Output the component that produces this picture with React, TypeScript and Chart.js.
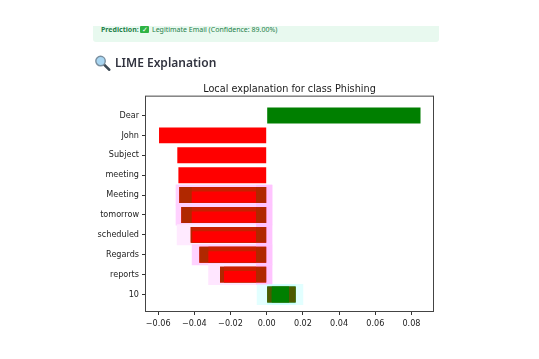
import React, { useEffect, useRef } from "react";
import { Chart, registerables } from "chart.js";

Chart.register(...registerables);

const words = ["Dear", "John", "Subject", "meeting", "Meeting", "tomorrow", "scheduled", "Regards", "reports", "10"];
const weights = [0.085, -0.0595, -0.0494, -0.0488, -0.0483, -0.0472, -0.042, -0.0372, -0.0258, 0.016];
const xTicks = [-0.06, -0.04, -0.02, 0, 0.02, 0.04, 0.06, 0.08];

// Highlighted rows (rows 4 to 9)
const highlightRows = [4, 5, 6, 7, 8, 9];
const haloLow = [-0.0503, -0.0503, -0.0497, -0.0414, -0.0323, -0.0055];
const haloHigh = [0.0031, 0.0031, 0.0031, 0.0031, 0.0031, 0.0202];
const haloColors = ["#ffd2ff", "#ffd2ff", "#ffeaff", "#ffd2ff", "#ffe6ff", "#e2ffff"];
const capLow = [-0.0059, -0.0059, -0.0059, -0.0059, -0.0059, 0];
const capHigh = [0.0031, 0.0031, 0.0031, 0.0031, 0.0031, 0.016];
const capColors = ["#ffc4ff", "#ffc4ff", "#ffc4ff", "#ffc4ff", "#ffc4ff", "#c8ffff"];
const darkColors = ["#b02800", "#b02800", "#b02800", "#b02800", "#b02800", "#4d5a00"];
const midLow = [-0.0414, -0.0414, -0.0411, -0.0322, -0.0236, 0.0028];
const midHigh = [-0.0059, -0.0059, -0.0059, -0.0059, -0.0059, 0.0123];
const midColors = ["#c82000", "#c82000", "#c82000", "#c82000", "#c82000", "#007f00"];
const coreColors = ["#ff0000", "#ff0000", "#ff0000", "#ff0000", "#ff0000", "#007f00"];

const rowShift = 0.1;

const minusTick = (v: number) => v.toFixed(2).replace("-", "\u2212");

const framePlugin = {
  id: "frame",
  afterDatasetsDraw(chart: any) {
    const { ctx, chartArea: a } = chart;
    ctx.save();
    ctx.strokeStyle = "#444";
    ctx.lineWidth = 1;
    ctx.strokeRect(a.left - 0.5, a.top - 0.5, a.right - a.left + 1, a.bottom - a.top + 1);
    ctx.restore();
  },
};

function App() {
  const ref = useRef<HTMLCanvasElement>(null);
  useEffect(() => {
    const font = { family: "'DejaVu Sans'", size: 8.1 };
    const bar = (data: any[], backgroundColor: any, barThickness: number, order: number) => ({
      data,
      backgroundColor,
      barThickness,
      order,
      grouped: false,
      borderWidth: 0,
      inflateAmount: 0,
    });
    const chart = new Chart(ref.current!, {
      type: "bar",
      data: {
        datasets: [
          bar(highlightRows.map((r, i) => ({ y: r, x: [haloLow[i], haloHigh[i]] })), haloColors, 21, 6),
          bar(highlightRows.map((r, i) => ({ y: r, x: [capLow[i], capHigh[i]] })), capColors, 20, 5),
          bar(weights.map((w, r) => ({ y: r, x: [0, w] })), weights.map((w) => (w > 0 ? "#007f00" : "#ff0000")), 15.9, 4),
          bar(highlightRows.map((r, i) => ({ y: r, x: [0, weights[r]] })), darkColors, 15.9, 3),
          bar(highlightRows.map((r, i) => ({ y: r, x: [midLow[i], midHigh[i]] })), midColors, 15.9, 2),
          bar(highlightRows.map((r, i) => ({ y: r + rowShift, x: [midLow[i], midHigh[i]] })), coreColors, 11, 1),
        ],
      },
      options: {
        indexAxis: "y",
        animation: false,
        responsive: false,
        devicePixelRatio: 1,
        layout: { padding: { top: 81, right: 106, left: 0, bottom: 0 } },
        plugins: {
          legend: { display: false },
          tooltip: { enabled: false },
          title: {
            display: true,
            fullSize: false,
            text: "Local explanation for class Phishing",
            color: "#1a1a1a",
            font: { family: "'DejaVu Sans'", size: 9.7, weight: "normal" },
            padding: { top: 3, bottom: 1 },
          },
        },
        scales: {
          x: {
            type: "linear",
            min: -0.0667,
            max: 0.0919,
            afterBuildTicks: (s: any) => {
              s.ticks = xTicks.map((value) => ({ value }));
            },
            afterFit: (s: any) => {
              s.height = 48;
            },
            ticks: { callback: (v: any) => minusTick(Number(v)), font, color: "#222", padding: 4, maxRotation: 0, autoSkip: false },
            grid: { drawOnChartArea: false, drawTicks: true, tickLength: 4, color: "#333" },
            border: { display: false },
          },
          y: {
            type: "linear",
            reverse: true,
            offset: false,
            min: -0.95,
            max: 9.83,
            afterBuildTicks: (s: any) => {
              s.ticks = words.map((_, value) => ({ value }));
            },
            afterFit: (s: any) => {
              s.width = 146;
            },
            ticks: { callback: (v: any) => words[Number(v)], font, color: "#222", padding: 3, autoSkip: false },
            grid: { offset: false, drawOnChartArea: false, drawTicks: true, tickLength: 4, color: "#333" },
            border: { display: false },
          },
        },
      },
      plugins: [framePlugin],
    } as any);
    return () => chart.destroy();
  }, []);

  return (
    <div style={{ position: "fixed", left: 0, top: 0, width: 539, height: 359, overflow: "hidden", background: "#fff", filter: "blur(0.35px)" }}>
      <canvas ref={ref} width={539} height={359} style={{ position: "absolute", left: 0, top: 0 }} />
      <div
        style={{
          position: "absolute",
          left: 93,
          top: 26,
          width: 346,
          height: 16,
          background: "#e8f9ef",
          borderRadius: "0 0 3px 3px",
          overflow: "hidden",
          fontFamily: "'Noto Sans', sans-serif",
          fontSize: 7,
          lineHeight: "7px",
          color: "#1f7f4a",
          whiteSpace: "nowrap",
        }}
      >
        <span style={{ position: "absolute", left: 8, top: 0, fontWeight: 700 }}>Prediction:</span>
        <span
          style={{
            position: "absolute",
            left: 47,
            top: 0,
            width: 9,
            height: 7,
            background: "#2fb344",
            color: "#fff",
            fontSize: 7,
            lineHeight: "7px",
            textAlign: "center",
            borderRadius: 1,
          }}
        >
          ✓
        </span>
        <span style={{ position: "absolute", left: 59, top: 0 }}>Legitimate Email (Confidence: 89.00%)</span>
      </div>
      <svg width="17" height="16" viewBox="0 0 18 18" style={{ position: "absolute", left: 94, top: 55 }}>
        <line x1="10.5" y1="10.5" x2="16.5" y2="16.5" stroke="#3d4a55" strokeWidth="3" strokeLinecap="round" />
        <circle cx="6.8" cy="6.8" r="5.3" fill="#a9d6f2" stroke="#7a8f9f" strokeWidth="1.6" />
      </svg>
      <div
        style={{
          position: "absolute",
          left: 115,
          top: 53,
          fontFamily: "'Noto Sans', sans-serif",
          fontWeight: 600,
          fontSize: 12,
          lineHeight: "20px",
          color: "#31333f",
          whiteSpace: "nowrap",
        }}
      >
        LIME Explanation
      </div>
    </div>
  );
}

export default App;
